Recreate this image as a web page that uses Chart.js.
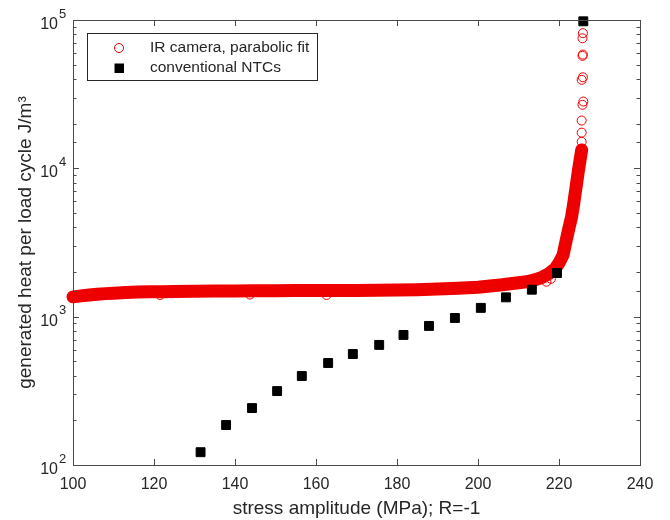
<!DOCTYPE html>
<html>
<head>
<meta charset="utf-8">
<script src="https://cdn.jsdelivr.net/npm/chart.js@4.4.1/dist/chart.umd.min.js"></script>
<style>
  html, body { margin: 0; padding: 0; background: #fff; }
  canvas { display: block; }
</style>
</head>
<body>
<canvas id="chart" width="670" height="520"></canvas>
<script>
const FONT = '"Liberation Sans", Arial, Helvetica, sans-serif';
const INK = '#262626';
const RED = '#ee0000';

// x ticks (MPa) and labelled y decades
const xTicks = [100, 120, 140, 160, 180, 200, 220, 240];
const yDecades = [100, 1000, 10000, 100000];

// conventional NTC measurements
const ntcX = [131.5, 137.8, 144.2, 150.4, 156.5, 163.0, 169.1, 175.6, 181.6, 187.9, 194.3, 200.7, 206.9, 213.3, 219.5, 226.0];
const ntcY = [122, 186, 242, 315, 398, 487, 560, 645, 753, 866, 980, 1146, 1350, 1520, 1970, 98000];

// IR camera, dense band of the parabolic fit
const irX = [100, 102, 104, 106, 108, 110, 113, 116, 119, 122, 125, 130, 135, 140, 145, 150, 155, 160, 165, 170,
  175, 180, 185, 190, 195, 200, 203, 206, 209, 212, 214, 216, 217.5, 219, 220, 221, 221.7, 222.4, 223.1, 223.6,
  224.0, 224.4, 224.8, 225.2, 225.6];
const irY = [1360, 1380, 1400, 1415, 1430, 1440, 1455, 1465, 1470, 1475, 1480, 1485, 1490, 1490, 1495, 1495, 1500, 1500, 1500, 1500,
  1505, 1510, 1520, 1535, 1555, 1580, 1610, 1640, 1680, 1720, 1770, 1850, 1950, 2100, 2300, 2600, 3200, 3900, 4700, 5700,
  6800, 8100, 9700, 11400, 13300];

// IR camera, single circles off the band
const irSparseX = [121.5, 143.7, 162.6, 216.9, 218.0, 225.6, 225.6, 225.6, 225.8, 226.0, 225.6, 225.9, 225.8, 225.9, 225.8, 225.9];
const irSparseY = [1400, 1410, 1400, 1720, 1800, 15100, 17400, 21000, 26800, 28200, 39500, 41100, 57300, 58500, 75300, 81500];

const pts = (xs, ys) => xs.map((x, i) => ({ x, y: ys[i] }));

const axesPlugin = {
  id: 'axesBox',
  afterDraw(chart) {
    const { ctx, chartArea: a, scales: { x, y } } = chart;
    ctx.save();
    ctx.strokeStyle = '#4a4a4a';
    ctx.lineWidth = 1;
    ctx.strokeRect(a.left + 0.5, a.top + 0.5, a.right - a.left, a.bottom - a.top);

    ctx.beginPath();
    xTicks.slice(1, -1).forEach((v) => {
      const px = Math.round(x.getPixelForValue(v)) + 0.5;
      ctx.moveTo(px, a.bottom); ctx.lineTo(px, a.bottom - 6);
      ctx.moveTo(px, a.top); ctx.lineTo(px, a.top + 6);
    });
    y.ticks.forEach((t) => {
      const lg = Math.log10(t.value);
      const len = Math.abs(lg - Math.round(lg)) < 1e-9 ? 6 : 3.5;
      const py = Math.round(y.getPixelForValue(t.value)) + 0.5;
      ctx.moveTo(a.left, py); ctx.lineTo(a.left + len, py);
      ctx.moveTo(a.right, py); ctx.lineTo(a.right - len, py);
    });
    ctx.stroke();

    // y labels as 10^n
    ctx.fillStyle = INK;
    yDecades.forEach((v) => {
      const py = y.getPixelForValue(v);
      ctx.font = '16px ' + FONT;
      ctx.textAlign = 'right';
      ctx.textBaseline = 'middle';
      ctx.fillText('10', 58, py + 4.5);
      ctx.font = '13px ' + FONT;
      ctx.textAlign = 'left';
      ctx.fillText(String(Math.round(Math.log10(v))), 59, py - 6);
    });

    // legend
    ctx.fillStyle = '#fff';
    ctx.fillRect(87.5, 33.5, 230, 47);
    ctx.strokeStyle = '#262626';
    ctx.strokeRect(87.5, 33.5, 230, 47);
    ctx.strokeStyle = RED;
    ctx.beginPath();
    ctx.arc(119, 48, 4.5, 0, Math.PI * 2);
    ctx.stroke();
    ctx.fillStyle = '#000';
    ctx.fillRect(114.5, 63.5, 9.5, 9.5);
    ctx.fillStyle = INK;
    ctx.font = '15.5px ' + FONT;
    ctx.textAlign = 'left';
    ctx.textBaseline = 'middle';
    ctx.fillText(chart.data.datasets[1].label, 150, 48);
    ctx.fillText(chart.data.datasets[0].label, 150, 68);
    ctx.restore();
  }
};

new Chart(document.getElementById('chart'), {
  type: 'scatter',
  data: {
    datasets: [
      {
        label: 'conventional NTCs',
        data: pts(ntcX, ntcY),
        pointStyle: 'rect',
        pointRadius: 6.3,
        pointBackgroundColor: '#000',
        pointBorderColor: '#000',
        pointBorderWidth: 1,
        clip: false
      },
      {
        label: 'IR camera, parabolic fit',
        data: pts(irSparseX, irSparseY),
        pointStyle: 'circle',
        pointRadius: 4.5,
        pointBackgroundColor: 'rgba(0,0,0,0)',
        pointBorderColor: RED,
        pointBorderWidth: 1,
        clip: false
      },
      {
        label: 'IR band',
        data: pts(irX, irY),
        showLine: true,
        borderColor: RED,
        borderWidth: 13,
        borderCapStyle: 'round',
        borderJoinStyle: 'round',
        tension: 0,
        pointStyle: 'circle',
        pointRadius: 5,
        pointBackgroundColor: 'rgba(0,0,0,0)',
        pointBorderColor: RED,
        pointBorderWidth: 1,
        clip: false
      }
    ]
  },
  options: {
    responsive: false,
    animation: false,
    devicePixelRatio: 1,
    layout: { padding: { left: 0, right: 30, top: 20, bottom: 0 } },
    plugins: { legend: { display: false }, tooltip: { enabled: false } },
    scales: {
      x: {
        type: 'linear',
        min: 100,
        max: 240,
        afterFit(s) { s.height = 55; },
        ticks: { stepSize: 20, color: INK, font: { family: FONT, size: 16 }, padding: 10, maxRotation: 0 },
        grid: { display: false, drawTicks: false },
        border: { display: false },
        title: { display: true, text: 'stress amplitude (MPa); R=-1', color: INK, font: { family: FONT, size: 19 }, padding: 0 }
      },
      y: {
        type: 'logarithmic',
        min: 100,
        max: 100000,
        afterFit(s) { s.width = 73; },
        ticks: { display: false, autoSkip: false },
        grid: { display: false, drawTicks: false },
        border: { display: false },
        title: { display: true, text: 'generated heat per load cycle J/m³', color: INK, font: { family: FONT, size: 19 }, padding: { top: 14, bottom: 0 } }
      }
    }
  },
  plugins: [axesPlugin]
});
</script>
</body>
</html>
